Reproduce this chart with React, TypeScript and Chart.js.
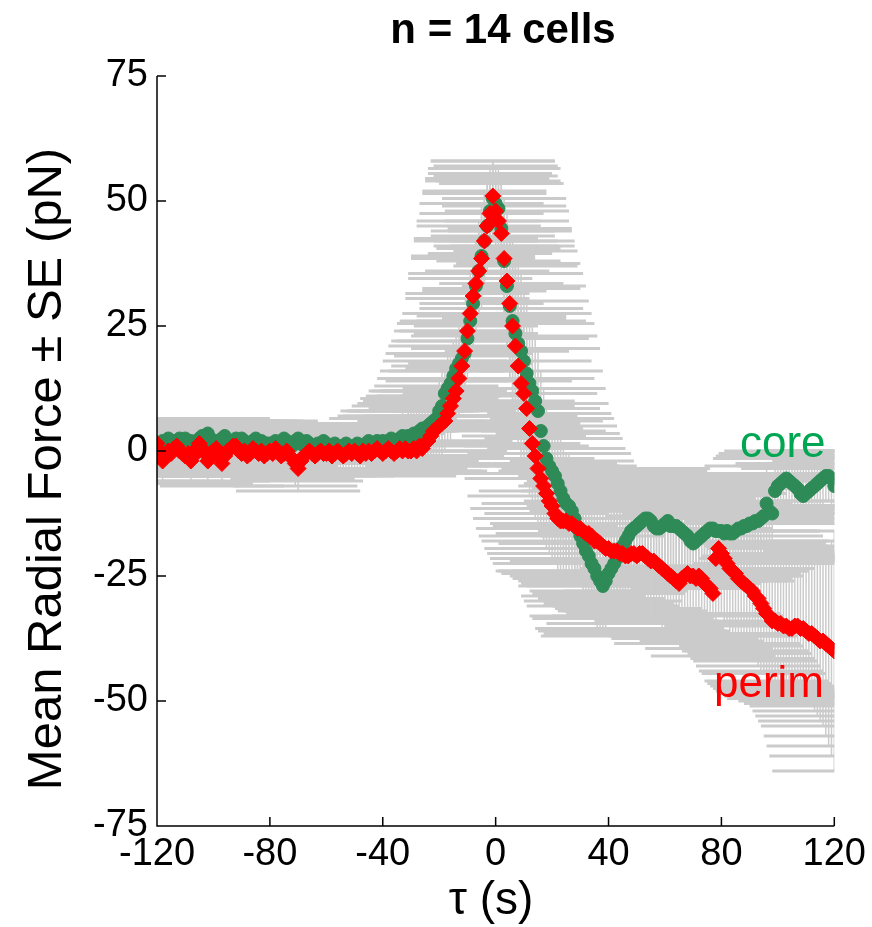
import React, { useEffect, useRef } from "react";
import { Chart, registerables } from "chart.js";

Chart.register(...registerables);

// ---- data ----
const TIME_START = -120; // first sample, s (1 s per sample)

const coreForce = [
  0.5, 1.5, 2.0, 1.0, 2.5, 1.5, 2.0, 1.0, 2.5, 2.0,
  2.5, 1.5, 2.0, 1.0, 1.5, 2.5, 3.0, 2.0, 3.5, 2.5,
  1.5, 2.0, 1.0, 2.5, 3.0, 2.0, 1.5, 2.0, 2.5, 1.5,
  2.5, 2.0, 1.5, 1.0, 2.0, 2.5, 1.5, 2.0, 1.0, 1.5,
  1.5, 1.0, 2.0, 1.5, 1.0, 2.5, 2.0, 1.5, 1.0, 2.0,
  2.5, 1.5, 1.0, 2.0, 1.5, 1.0, 0.5, 1.5, 1.0, 2.0,
  1.5, 1.0, 0.5, 1.5, 1.0, 0.5, 1.0, 1.5, 1.0, 0.5,
  1.0, 1.5, 0.5, 1.0, 1.5, 2.0, 1.0, 1.5, 2.0, 1.5,
  2.0, 1.5, 2.0, 2.5, 2.0, 1.5, 2.5, 3.0, 2.5, 3.0,
  3.0, 3.5, 3.0, 4.0, 4.5, 4.5, 5.0, 5.5, 6.0, 6.5,
  8.0, 9.0, 11.5, 12.5, 13.5, 15.0, 16.5, 17.5, 18.5, 19.5,
  22.5, 26.0, 29.5, 33.0, 36.0, 39.0, 42.0, 45.0, 48.0, 50.5,
  49.5, 48.5, 44.5, 38.0, 33.0, 29.0, 26.0, 23.5, 21.5, 20.0,
  18.0, 15.5, 13.5, 12.0, 10.0, 8.0, 4.0, 1.0, -1.5, -3.0,
  -4.0, -5.0, -6.5, -8.0, -9.5, -10.5, -11.0, -12.0, -13.5, -15.5,
  -17.0, -18.5, -20.0, -21.0, -22.5, -23.5, -25.0, -26.0, -27.0, -26.0,
  -24.5, -23.5, -22.5, -21.5, -20.0, -19.0, -18.0, -17.0, -16.0, -15.5,
  -15.0, -14.5, -14.0, -13.5, -13.5, -14.0, -15.0, -15.5, -15.5, -15.0,
  -14.5, -14.0, -15.0, -15.0, -15.0, -15.5, -16.0, -16.5, -17.0, -18.0,
  -18.5, -18.0, -17.5, -17.0, -16.5, -16.0, -15.5, -15.5, -16.0, -16.0,
  -16.0, -16.5, -16.0, -16.5, -16.5, -16.0, -15.5, -15.5, -15.0, -15.0,
  -14.5, -14.5, -14.0, -14.0, -13.5, -13.0, -10.5, -12.0, -12.5, -8.0,
  -7.0, -6.5, -6.0, -5.5, -6.0, -6.5, -7.0, -7.5, -8.5, -9.0,
  -8.5, -8.0, -7.5, -7.0, -6.5, -6.0, -5.5, -5.0, -5.0, -5.5,
  -7.0,
];

const perimForce = [
  1.5, 0.0, -2.0, -1.0, 0.0, -0.5, 0.5, 1.0, 0.0, -0.5,
  -1.0, -0.5, -2.0, -1.0, 0.5, 1.5, 0.5, -0.5, -2.0, -0.5,
  0.0, 0.5, -1.0, -2.5, -1.0, 0.0, 0.5, 1.0, 1.0, 0.0,
  -0.5, 0.0, -1.0, -0.5, 0.5, 0.0, -0.5, 0.0, -1.0, -0.5,
  0.0, -0.5, 0.5, 0.0, -1.0, -0.5, 0.0, -1.0, -1.5, -2.5,
  -3.5, -2.0, -1.0, -0.5, 0.0, -0.5, -1.0, -0.5, 0.0, -0.5,
  -0.5, 0.0, -1.0, -0.5, 0.0, -0.5, -1.0, -0.5, 0.0, -0.5,
  0.0, -0.5, -1.0, 0.0, -0.5, 0.0, -0.5, 0.0, 0.5, 0.0,
  -0.5, 0.0, 0.5, 0.0, -0.5, 0.0, 0.5, 0.0, 0.5, 0.0,
  0.0, 0.5, 0.0, 1.0, 0.5, 1.5, 2.0, 3.0, 4.0, 4.5,
  5.0, 5.5, 6.0, 7.5, 9.0, 10.5, 12.0, 14.5, 17.0, 20.0,
  24.0, 27.5, 31.0, 33.5, 36.0, 38.5, 42.0, 45.0, 47.5, 51.0,
  48.0, 46.0, 43.5, 38.5, 34.0, 29.5, 25.0, 21.0, 17.0, 13.5,
  11.5, 8.5, 4.5, 1.5, -1.0, -3.5, -5.5, -7.0, -8.5, -10.0,
  -11.0, -12.5, -13.5, -14.0, -14.0, -14.0, -14.5, -14.5, -15.0, -15.5,
  -15.5, -16.0, -16.5, -16.5, -17.0, -18.0, -18.0, -18.5, -19.0, -19.5,
  -19.5, -20.0, -20.0, -20.0, -20.5, -20.5, -21.0, -21.0, -20.5, -20.5,
  -21.0, -20.5, -20.5, -21.0, -21.5, -22.0, -22.0, -22.5, -23.0, -23.5,
  -24.0, -24.5, -25.0, -25.5, -26.0, -26.5, -25.5, -25.0, -24.5, -25.0,
  -25.0, -25.5, -25.0, -25.5, -26.5, -27.0, -27.5, -28.5, -21.5, -19.5,
  -20.5, -21.5, -22.5, -23.5, -24.0, -24.5, -25.5, -26.0, -26.5, -27.0,
  -27.5, -28.0, -29.0, -29.5, -30.5, -31.5, -32.5, -33.0, -34.0, -34.0,
  -34.5, -34.5, -35.0, -35.0, -35.5, -35.5, -35.0, -35.0, -35.5, -35.5,
  -36.0, -36.5, -36.5, -37.0, -37.5, -38.0, -38.0, -38.5, -39.0, -39.5,
  -40.0,
];

const coreSE = [
  3.5, 3.0, 3.5, 4.0, 3.5, 3.0, 3.5, 3.0, 3.5, 4.0,
  3.5, 3.0, 3.0, 3.5, 4.0, 3.5, 3.0, 3.5, 3.0, 3.5,
  3.0, 3.5, 4.0, 3.5, 3.0, 3.0, 3.5, 3.0, 3.5, 3.0,
  3.5, 3.0, 3.5, 3.0, 3.0, 3.5, 3.0, 3.5, 3.0, 3.0,
  3.0, 3.5, 3.0, 3.0, 3.5, 3.0, 3.0, 3.5, 3.0, 3.0,
  3.0, 3.0, 3.5, 3.0, 3.0, 3.5, 3.0, 3.0, 3.0, 3.5,
  3.0, 3.0, 3.0, 3.5, 3.0, 3.0, 3.0, 3.5, 3.0, 3.0,
  3.0, 3.5, 3.0, 3.0, 3.5, 3.0, 3.5, 3.5, 3.0, 3.5,
  3.5, 4.0, 3.5, 4.0, 4.5, 4.0, 4.5, 5.0, 4.5, 5.0,
  5.0, 5.5, 5.0, 5.5, 6.0, 5.5, 6.0, 6.5, 6.0, 6.5,
  6.5, 7.0, 6.5, 7.0, 7.5, 7.0, 7.5, 8.0, 7.5, 8.0,
  8.0, 8.5, 9.0, 9.5, 10.0, 10.5, 10.0, 9.5, 8.5, 7.5,
  7.5, 8.0, 9.0, 11.0, 13.0, 15.0, 16.0, 16.5, 16.0, 15.5,
  15.0, 14.5, 14.0, 13.5, 13.0, 12.5, 12.0, 11.5, 11.0, 10.5,
  10.5, 10.0, 10.0, 10.5, 10.0, 10.0, 10.5, 10.0, 10.5, 10.0,
  10.0, 10.5, 10.0, 10.0, 10.5, 10.0, 10.5, 10.0, 10.0, 10.5,
  10.0, 10.0, 10.5, 10.0, 10.0, 9.5, 10.0, 9.5, 10.0, 9.5,
  9.5, 10.0, 9.5, 9.5, 10.0, 9.5, 9.5, 10.0, 9.5, 9.5,
  9.5, 9.0, 9.5, 9.5, 9.0, 9.5, 9.0, 9.5, 9.0, 9.0,
  9.0, 9.5, 9.0, 9.0, 9.5, 9.0, 9.0, 9.5, 9.0, 9.0,
  9.0, 9.5, 9.0, 9.0, 9.5, 9.0, 9.0, 9.5, 9.0, 9.0,
  9.0, 9.0, 8.5, 8.5, 8.0, 8.0, 7.5, 7.5, 7.0, 6.5,
  6.0, 6.0, 5.5, 5.5, 5.0, 5.5, 5.5, 5.0, 5.5, 5.5,
  5.0, 5.5, 5.0, 5.5, 5.0, 5.0, 5.5, 5.0, 5.0, 5.5,
  5.0,
];

const perimSE = [
  4.0, 3.5, 4.0, 3.5, 4.0, 4.5, 4.0, 3.5, 4.0, 4.0,
  3.5, 4.0, 4.5, 4.0, 3.5, 4.0, 4.0, 3.5, 4.0, 4.5,
  4.0, 3.5, 4.0, 4.5, 4.0, 3.5, 4.0, 4.0, 3.5, 4.0,
  4.0, 3.5, 4.0, 3.5, 4.0, 4.0, 3.5, 4.0, 3.5, 4.0,
  3.5, 4.0, 3.5, 4.0, 3.5, 3.5, 4.0, 3.5, 4.0, 4.5,
  4.5, 4.0, 3.5, 4.0, 3.5, 3.5, 4.0, 3.5, 3.5, 4.0,
  3.5, 3.5, 4.0, 3.5, 3.5, 4.0, 3.5, 3.5, 4.0, 3.5,
  3.5, 4.0, 3.5, 3.5, 4.0, 3.5, 4.0, 3.5, 4.0, 4.0,
  4.0, 4.0, 4.5, 4.0, 4.5, 4.0, 4.5, 4.5, 4.0, 4.5,
  4.5, 5.0, 4.5, 5.0, 5.0, 5.5, 5.0, 5.5, 5.5, 6.0,
  6.0, 6.5, 6.0, 6.5, 7.0, 6.5, 7.0, 7.5, 7.0, 7.5,
  7.5, 8.0, 8.0, 8.5, 9.0, 9.0, 9.5, 9.0, 8.0, 7.0,
  7.0, 8.0, 10.0, 12.0, 14.0, 15.0, 16.0, 16.0, 15.5, 15.0,
  14.5, 14.0, 13.5, 13.0, 12.5, 12.0, 11.5, 11.0, 11.0, 10.5,
  10.5, 10.0, 10.5, 10.0, 10.5, 10.5, 10.0, 10.5, 10.5, 10.0,
  10.5, 10.5, 10.0, 10.5, 11.0, 10.5, 10.5, 11.0, 10.5, 11.0,
  11.0, 10.5, 11.0, 11.0, 11.5, 11.0, 11.0, 11.5, 11.0, 11.0,
  11.5, 11.0, 11.5, 11.0, 11.5, 11.5, 11.0, 11.5, 11.5, 12.0,
  12.0, 11.5, 12.0, 12.0, 12.5, 12.0, 12.0, 12.5, 12.0, 12.0,
  12.5, 12.0, 12.0, 12.5, 12.0, 12.5, 12.0, 12.5, 12.5, 13.0,
  12.5, 13.0, 12.5, 13.0, 13.0, 12.5, 13.0, 13.0, 13.5, 13.0,
  13.0, 13.5, 13.0, 13.5, 13.5, 13.0, 13.5, 13.5, 13.0, 13.5,
  13.5, 14.0, 13.5, 14.0, 14.0, 13.5, 14.0, 14.0, 14.5, 14.0,
  14.5, 14.0, 14.5, 15.0, 15.5, 16.0, 17.0, 18.5, 20.0, 21.5,
  24.0,
];

const xTickValues = [-120, -80, -40, 0, 40, 80, 120];
const yTickValues = [-75, -50, -25, 0, 25, 50, 75];

const CAP_HALF_WIDTH = 22; // s, MATLAB-style wide error-bar caps
const FONT = "'Liberation Sans', Arial, Helvetica, sans-serif";

const tau = coreForce.map((_, i) => TIME_START + i);

const errorBarPlugin = {
  id: "errorBars",
  beforeDatasetsDraw(chart: any) {
    const { ctx, chartArea, scales } = chart;
    const xs = scales.x;
    const ys = scales.y;
    ctx.save();
    ctx.beginPath();
    ctx.rect(chartArea.left, chartArea.top, chartArea.right - chartArea.left, chartArea.bottom - chartArea.top);
    ctx.clip();
    ctx.strokeStyle = "#cbcbcb";
    const groups: [number[], number[]][] = [
      [coreForce, coreSE],
      [perimForce, perimSE],
    ];
    for (const [vals, errs] of groups) {
      for (let i = 0; i < vals.length; i++) {
        const t = tau[i];
        const v = vals[i];
        const e = errs[i];
        const px = xs.getPixelForValue(t);
        const yHi = ys.getPixelForValue(v + e);
        const yLo = ys.getPixelForValue(v - e);
        const xl = xs.getPixelForValue(t - CAP_HALF_WIDTH);
        const xr = xs.getPixelForValue(t + CAP_HALF_WIDTH);
        ctx.lineWidth = 1.5;
        ctx.beginPath();
        ctx.moveTo(px, yHi);
        ctx.lineTo(px, yLo);
        ctx.stroke();
        ctx.lineWidth = 3;
        ctx.beginPath();
        ctx.moveTo(xl, yHi);
        ctx.lineTo(xr, yHi);
        ctx.moveTo(xl, yLo);
        ctx.lineTo(xr, yLo);
        ctx.stroke();
      }
    }
    ctx.restore();
  },
};

const axesPlugin = {
  id: "matlabAxes",
  afterDatasetsDraw(chart: any) {
    const { ctx, chartArea, scales } = chart;
    const xs = scales.x;
    const ys = scales.y;
    ctx.save();
    ctx.strokeStyle = "#000";
    ctx.lineWidth = 1.5;
    ctx.beginPath();
    ctx.moveTo(chartArea.left, chartArea.top);
    ctx.lineTo(chartArea.left, chartArea.bottom);
    ctx.lineTo(chartArea.right, chartArea.bottom);
    for (const t of xTickValues) {
      const px = xs.getPixelForValue(t);
      ctx.moveTo(px, chartArea.bottom);
      ctx.lineTo(px, chartArea.bottom - 9);
    }
    for (const v of yTickValues) {
      const py = ys.getPixelForValue(v);
      ctx.moveTo(chartArea.left, py);
      ctx.lineTo(chartArea.left + 9, py);
    }
    ctx.stroke();
    ctx.restore();
  },
  afterDraw(chart: any) {
    const { ctx } = chart;
    ctx.save();
    ctx.fillStyle = "#000";
    ctx.textAlign = "center";
    ctx.textBaseline = "alphabetic";
    ctx.font = `bold 42px ${FONT}`;
    ctx.fillText("n = 14 cells", 503, 43);

    ctx.font = `46px ${FONT}`;
    ctx.fillText("\u03c4 (s)", 491, 914);

    ctx.save();
    ctx.translate(61, 469);
    ctx.rotate(-Math.PI / 2);
    ctx.font = `49px ${FONT}`;
    ctx.fillText("Mean Radial Force \u00b1 SE (pN)", 0, 0);
    ctx.restore();

    ctx.textAlign = "left";
    ctx.font = `44px ${FONT}`;
    ctx.fillStyle = "#00a651";
    ctx.fillText("core", 740, 457);
    ctx.fillStyle = "#ff0000";
    ctx.fillText("perim", 714, 697);
    ctx.restore();
  },
};

export default function App() {
  const canvasRef = useRef<HTMLCanvasElement | null>(null);

  useEffect(() => {
    if (!canvasRef.current) return;
    const chart = new Chart(canvasRef.current, {
      type: "scatter",
      data: {
        datasets: [
          {
            label: "perim",
            data: tau.map((t, i) => ({ x: t, y: perimForce[i] })),
            pointStyle: "rectRot",
            pointRadius: 8,
            pointBackgroundColor: "#ff0000",
            pointBorderColor: "#ff0000",
            pointBorderWidth: 1,
            showLine: false,
            order: 0,
          },
          {
            label: "core",
            data: tau.map((t, i) => ({ x: t, y: coreForce[i] })),
            pointStyle: "circle",
            pointRadius: 6.5,
            pointBackgroundColor: "#2e8b57",
            pointBorderColor: "#2e8b57",
            pointBorderWidth: 1,
            showLine: false,
            order: 1,
          },
        ],
      },
      options: {
        animation: false,
        responsive: false,
        events: [],
        layout: { padding: { top: 76, right: 37, left: 0, bottom: 0 } },
        plugins: {
          legend: { display: false },
          tooltip: { enabled: false },
          title: { display: false },
        },
        scales: {
          x: {
            type: "linear",
            min: -120,
            max: 120,
            grid: { display: false, drawTicks: false },
            border: { display: false },
            afterBuildTicks: (s: any) => {
              s.ticks = xTickValues.map((v) => ({ value: v }));
            },
            afterFit: (s: any) => {
              s.height = 101;
            },
            ticks: {
              color: "#000",
              padding: 6,
              maxRotation: 0,
              autoSkip: false,
              font: { family: FONT, size: 38 },
            },
          },
          y: {
            type: "linear",
            min: -75,
            max: 75,
            grid: { display: false, drawTicks: false },
            border: { display: false },
            afterBuildTicks: (s: any) => {
              s.ticks = yTickValues.map((v) => ({ value: v }));
            },
            afterFit: (s: any) => {
              s.width = 157;
            },
            ticks: {
              color: "#000",
              padding: 9,
              autoSkip: false,
              font: { family: FONT, size: 38 },
            },
          },
        },
      },
      plugins: [errorBarPlugin, axesPlugin],
    });
    return () => chart.destroy();
  }, []);

  return (
    <div style={{ position: "absolute", left: 0, top: 0, width: 872, height: 927, background: "#fff" }}>
      <canvas ref={canvasRef} width={872} height={927} style={{ display: "block" }} />
    </div>
  );
}
